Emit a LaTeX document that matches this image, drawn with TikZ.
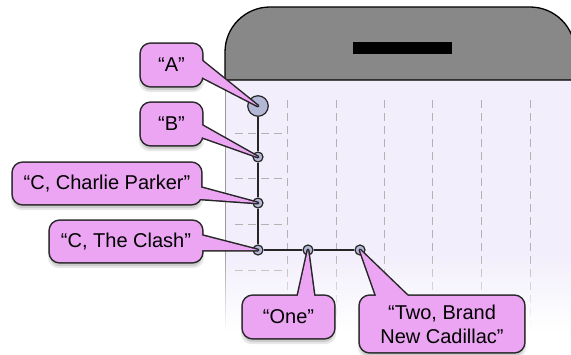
\documentclass[tikz,border=0pt]{standalone}
\usepackage{fontspec}
\setmainfont{Liberation Sans}
\usetikzlibrary{calc,fadings}

\definecolor{bubblepink}{HTML}{EBA5F2}
\definecolor{keyblue}{HTML}{B3B8D6}
\definecolor{screenlav}{HTML}{F2EEFC}
\definecolor{headgray}{HTML}{888888}

\pgfdeclarelayer{under}
\pgfdeclarelayer{bubble}
\pgfsetlayers{under,bubble,main}

\tikzfading[name=fadedown, top color=transparent!100, bottom color=transparent!0]

\tikzset{
  callbox/.style={shape=rectangle, inner sep=0pt, align=center,
    font=\fontsize{20}{24}\selectfont, text=black},
  key/.style={shape=circle, draw=black!85, fill=keyblue, line width=1.2pt,
    inner sep=0pt, minimum size=10pt},
  bigkey/.style={key, minimum size=20.5pt},
  treeline/.style={draw=black!85, line width=1.3pt},
  gridline/.style={draw=black!30, line width=1pt, dash pattern=on 8pt off 5pt},
  bubbleedge/.style={draw=black!85, line width=3pt, line join=round},
}

\newcommand{\bubbleshadow}[1]{%
  \fill[black!9, rounded corners=11pt] ($(#1.south west)+(-2,6)$) rectangle ($(#1.north east)+(2,2)$);
  \fill[black!20, rounded corners=10pt] ($(#1.south west)+(0,4)$) rectangle ($(#1.north east)+(0,3)$);
}
\newcommand{\bubble}[4]{%
  \draw[bubbleedge, rounded corners=10pt] (#1.south west) rectangle (#1.north east);
  \draw[bubbleedge] (#2) -- (#4.center) -- (#3);
  \fill[bubblepink, rounded corners=10pt] (#1.south west) rectangle (#1.north east);
  \fill[bubblepink] (#2) -- (#4.center) -- (#3) -- cycle;
}

\begin{document}
\begin{tikzpicture}[x=1pt,y=-1pt]
\useasboundingbox (0,0) rectangle (571,354);

\begin{pgfonlayer}{under}
\fill[screenlav] (225,80) rectangle (575,330);
\draw[black!40, line width=0.8pt] (225,80) -- (225,330);
\foreach \gx in {287,336,384,432,481,530}
  \draw[gridline] (\gx,100) -- (\gx,330);
\foreach \gy in {133,178,224,270}
  \draw[gridline] (235,\gy) -- (284,\gy);
\fill[white, path fading=fadedown] (215,250) rectangle (580,330);

\draw[fill=headgray, line width=1.3pt] (225,80) [rounded corners=45pt] -- (225,7) -- (575,7) [sharp corners] -- (575,80) -- cycle;
\fill[black] (353,42) rectangle (452,54);

\node (keya) at (258,106) [bigkey] {};
\node (keyb) at (258,157) [key] {};
\node (keyc) at (258,203) [key] {};
\node (keyd) at (258,250) [key] {};
\node (keye) at (308,250) [key] {};
\node (keyf) at (360,250) [key] {};

\draw [treeline] (keya) -- (keyb);
\draw [treeline] (keyb) -- (keyc);
\draw [treeline] (keyc) -- (keyd);
\draw [treeline] (keyd) -- (keye);
\draw [treeline] (keye) -- (keyf);
\end{pgfonlayer}

\node (calla) at (171.5,65) [callbox, minimum width=61pt, minimum height=42pt] {“A”};
\node (callb) at (171.5,124) [callbox, minimum width=61pt, minimum height=42pt] {“B”};
\node (callc) at (107,183.5) [callbox, minimum width=188pt, minimum height=41pt] {“C, Charlie Parker”};
\node (calld) at (126,241.5) [callbox, minimum width=152pt, minimum height=41pt] {“C, The Clash”};
\node (calle) at (288.5,317) [callbox, minimum width=91pt, minimum height=42pt] {“One”};
\node (callf) at (442,324) [callbox, minimum width=164pt, minimum height=56pt] {“Two, Brand\\New Cadillac”};

\begin{pgfonlayer}{bubble}
\bubbleshadow{calla}
\bubbleshadow{callb}
\bubbleshadow{callc}
\bubbleshadow{calld}
\bubbleshadow{calle}
\bubbleshadow{callf}
\bubble{calla}{196,56}{196,74}{keya}
\bubble{callb}{196,122}{196,135}{keyb}
\bubble{callc}{195,186}{195,198.5}{keyc}
\bubble{calld}{196,234}{196,250}{keyd}
\bubble{calle}{296.7,301}{314.8,301}{keye}
\bubble{callf}{378,301}{413,301}{keyf}
\end{pgfonlayer}
\end{tikzpicture}
\end{document}
